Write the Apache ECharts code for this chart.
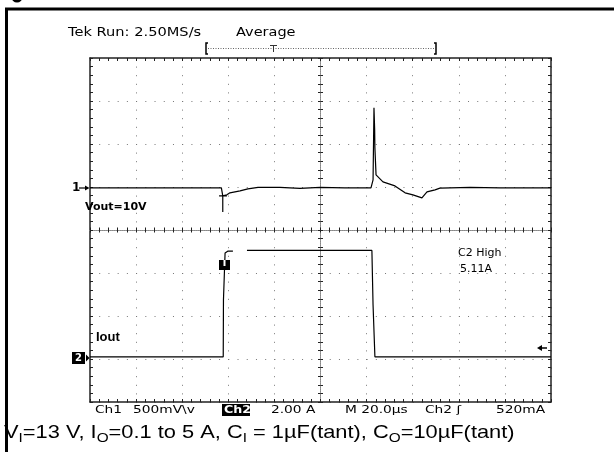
<!DOCTYPE html>
<html>
<head>
<meta charset="utf-8">
<script src="https://cdn.jsdelivr.net/npm/echarts@6/dist/echarts.min.js"></script>
<style>
  html, body { margin: 0; padding: 0; background: #fff; }
  #main { width: 614px; height: 452px; }
</style>
</head>
<body>
<div id="main"></div>
<script>
// time axis: µs from the left edge of the screen, 20 µs/div
// ch1: Vout deviation from 10 V in mV (500 mV/div)
const vTime = [0, 57.0, 57.6, 56.0, 59.4, 57.6, 57.6, 57.6, 59.4, 60.7, 65.1, 68.5, 72.9, 82.4, 91.1, 99.8, 110.6, 121.9,
  122.5, 122.8, 123.2, 123.5, 123.6, 124.1, 127.1, 132.3, 136.7, 140.1, 144.0, 146.2, 149.7, 151.8, 164.9, 177.9, 200]
const vOut = [0, 0, -93, -93, -93, -93, -280, -93, -81, -58, -35, -12, 6, 6, -6, 6, 0, 0,
  0, 93, 930, 674, 465, 151, 70, 23, -58, -81, -116, -47, -23, -3, 6, 0, 0]
// ch2: Iout in A (2 A/div), null = gap in the record
const iTime = [0, 57.8, 57.9, 58.6, 59.9, 62.0, 65.0, 68.1, 122.3, 122.8, 123.6, 200]
const iOut = [0.1, 0.1, 2.74, 4.93, 5.02, 5.02, null, 5.05, 5.05, 2.51, 0.1, 0.1]

const bottomLabels = ['Ch1', '500mV\\v', '2.00 A', 'M 20.0\u00b5s', 'Ch2 \u0283', '520mA']
const bottomX = [95, 133, 271, 345, 425, 496]

const ink = '#222'
const dotGrey = '#777'
const scopeFont = 'DejaVu Sans'

// border axes / centre axes of the graticule
const borderX = (pos) => ({
  type: 'value', min: 0, max: 200, interval: 20, position: pos,
  axisLine: { show: true, onZero: false, lineStyle: { color: ink, width: 1.5 } },
  axisTick: { show: true, inside: true, length: 3, lineStyle: { color: ink } },
  minorTick: { show: true, splitNumber: 5, length: 3, lineStyle: { color: ink } },
  axisLabel: { show: false },
  splitLine: { show: false }
})
const centreX = (inside) => ({
  type: 'value', min: 0, max: 200, interval: 20, position: 'bottom', offset: -172,
  axisLine: { show: true, onZero: false, lineStyle: { color: '#888', width: 1, type: [1, 1] } },
  axisTick: { show: true, inside: inside, length: 2.5, lineStyle: { color: ink } },
  minorTick: { show: true, splitNumber: 5, length: 2.5, lineStyle: { color: ink } },
  axisLabel: { show: false },
  splitLine: { show: false }
})
const borderY = (pos) => ({
  type: 'value', min: -4, max: 4, interval: 1, position: pos,
  axisLine: { show: true, onZero: false, lineStyle: { color: ink, width: 1.5 } },
  axisTick: { show: true, inside: true, length: 3, lineStyle: { color: ink } },
  minorTick: { show: true, splitNumber: 5, length: 3, lineStyle: { color: ink } },
  axisLabel: { show: false },
  splitLine: { show: false }
})
const centreY = (inside) => ({
  type: 'value', min: -4, max: 4, interval: 1, position: 'left', offset: -230.5,
  axisLine: { show: true, onZero: false, lineStyle: { color: '#888', width: 1, type: [1, 1] } },
  axisTick: { show: true, inside: inside, length: 2.5, lineStyle: { color: ink } },
  minorTick: { show: true, splitNumber: 5, length: 2.5, lineStyle: { color: ink } },
  axisLabel: { show: false },
  splitLine: { show: false }
})

let xAxes = [borderX('bottom'), borderX('top'), centreX(true), centreX(false)]
xAxes[0].splitLine = { show: true, lineStyle: { color: dotGrey, width: 1, type: [1, 7.6] } }
let yAxes = [borderY('left'), borderY('right'), centreY(true), centreY(false),
  { type: 'value', show: false, min: -2490, max: 1510 },
  { type: 'value', show: false, min: -2, max: 14 }]
yAxes[0].splitLine = { show: true, lineStyle: { color: dotGrey, width: 1, type: [1, 8.22] } }

const txt = (x, y, text, size, extra, sx) => ({
  type: 'text', x: x, y: y, z: 100, scaleX: sx || 1,
  style: Object.assign({ text: text, fontSize: size, fontFamily: scopeFont, fill: '#000', textVerticalAlign: 'middle' }, extra || {})
})

let graphics = [
  // outer frame of the figure
  { type: 'polyline', z: 100, shape: { points: [[6.5, 452], [6.5, 9], [614, 9]] }, style: { stroke: '#000', lineWidth: 3, fill: null } },
  { type: 'circle', z: 100, shape: { cx: 17, cy: -3, r: 5.5 }, style: { fill: '#000' } },
  txt(68, 33, 'Tek Run: 2.50MS/s', 12.5, null, 1.17),
  txt(236, 33, 'Average', 12.5, null, 1.16),
  // record bracket
  { type: 'polyline', z: 100, shape: { points: [[208, 43], [206, 43], [206, 54], [208, 54]] }, style: { stroke: '#000', lineWidth: 1.5, fill: null } },
  { type: 'polyline', z: 100, shape: { points: [[434, 43], [436, 43], [436, 54], [434, 54]] }, style: { stroke: '#000', lineWidth: 1.5, fill: null } },
  { type: 'line', z: 100, shape: { x1: 208, y1: 48.5, x2: 434, y2: 48.5 }, style: { stroke: '#666', lineWidth: 1, lineDash: [1, 1.5] } },
  { type: 'line', z: 100, shape: { x1: 270, y1: 45.5, x2: 277, y2: 45.5 }, style: { stroke: '#333', lineWidth: 1 } },
  { type: 'line', z: 100, shape: { x1: 273.5, y1: 45.5, x2: 273.5, y2: 52 }, style: { stroke: '#333', lineWidth: 1 } },
  // ch1 ground marker
  txt(72, 188, '1', 12, { fontWeight: 'bold' }),
  { type: 'line', z: 100, shape: { x1: 79, y1: 188, x2: 86, y2: 188 }, style: { stroke: '#000', lineWidth: 1.2 } },
  { type: 'polygon', z: 100, shape: { points: [[85, 185.5], [89.5, 188], [85, 190.5]] }, style: { fill: '#000' } },
  txt(85, 207, 'Vout=10V', 11, { fontWeight: 'bold' }),
  // trigger marker
  { type: 'rect', z: 100, shape: { x: 219, y: 260, width: 11, height: 10 }, style: { fill: '#000' } },
  { type: 'rect', z: 101, shape: { x: 223.5, y: 260, width: 2, height: 6 }, style: { fill: '#fff' } },
  txt(458, 253, 'C2 High', 11),
  txt(460, 269, '5.11A', 11),
  txt(96, 337, 'Iout', 13, { fontWeight: 'bold', fontFamily: 'Liberation Sans' }),
  // ch2 ground marker
  { type: 'rect', z: 100, shape: { x: 72, y: 352, width: 13, height: 12 }, style: { fill: '#000' } },
  txt(78.5, 358, '2', 10, { fontWeight: 'bold', fill: '#fff', textAlign: 'center' }),
  { type: 'polygon', z: 100, shape: { points: [[86, 354.5], [89.5, 358], [86, 361.5]] }, style: { fill: '#000' } },
  // trigger level marker
  { type: 'polygon', z: 100, shape: { points: [[537, 348], [542, 345], [542, 351]] }, style: { fill: '#000' } },
  { type: 'line', z: 100, shape: { x1: 541, y1: 348, x2: 547, y2: 348 }, style: { stroke: '#000', lineWidth: 1.5 } },
  // inverted Ch2 label
  { type: 'rect', z: 100, shape: { x: 222, y: 404, width: 28, height: 12 }, style: { fill: '#000' } },
  txt(224, 410, 'Ch2', 11, { fontWeight: 'bold', fill: '#fff' }, 1.15),
  // caption
  {
    type: 'text', x: 4, y: 421, z: 100, scaleX: 1.18,
    style: {
      text: '{m|V}{s|I}{m|=13 V, I}{s|O}{m|=0.1 to 5 A, C}{s|I}{m| = 1\u00b5F(tant), C}{s|O}{m|=10\u00b5F(tant)}',
      textVerticalAlign: 'top',
      rich: {
        m: { fontSize: 18.5, fontFamily: 'Liberation Sans', lineHeight: 24, fill: '#000' },
        s: { fontSize: 13, fontFamily: 'Liberation Sans', lineHeight: 12, verticalAlign: 'bottom', fill: '#000' }
      }
    }
  }
]
bottomLabels.forEach((t, i) => graphics.push(txt(bottomX[i], 410, t, 11, null, 1.25)))

let option = {
  animation: false,
  backgroundColor: '#fff',
  grid: { left: 90, top: 58, width: 461, height: 344, containLabel: false },
  xAxis: xAxes,
  yAxis: yAxes,
  series: [
    {
      name: 'Vout', type: 'line', xAxisIndex: 0, yAxisIndex: 4,
      showSymbol: false, symbol: 'none',
      lineStyle: { color: '#000', width: 1.2 },
      data: vTime.map((t, i) => [t, vOut[i]])
    },
    {
      name: 'Iout', type: 'line', xAxisIndex: 0, yAxisIndex: 5,
      showSymbol: false, symbol: 'none', connectNulls: false,
      lineStyle: { color: '#000', width: 1.2 },
      data: iTime.map((t, i) => [t, iOut[i] == null ? '-' : iOut[i]])
    }
  ],
  graphic: { elements: graphics }
}

let myChart = echarts.init(document.getElementById('main'))
myChart.setOption(option)
</script>
</body>
</html>
